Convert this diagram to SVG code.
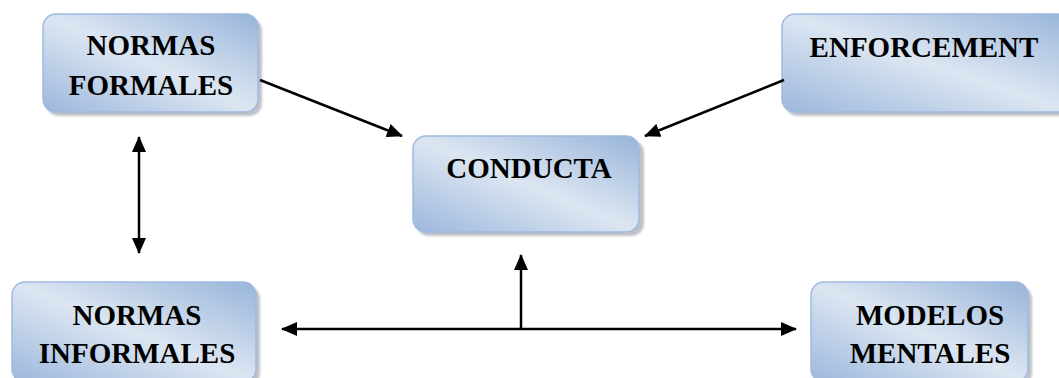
<svg xmlns="http://www.w3.org/2000/svg" width="1059" height="378" viewBox="0 0 1059 378">
<style>
.box{fill:url(#g);stroke:#9fbbe0;stroke-width:1.5}
.sh{fill:#8a8f99;opacity:0.55}
.t{font-family:"Liberation Serif","Times New Roman",serif;font-weight:bold;font-size:29px;fill:#000;text-anchor:middle}
.c{stroke:#000;stroke-width:2.5;fill:none}
</style>
<defs>
<linearGradient id="g" x1="1" y1="0" x2="0" y2="1">
<stop offset="0" stop-color="#98b4d9"/>
<stop offset="0.5" stop-color="#dce6f2"/>
<stop offset="1" stop-color="#9cb7dc"/>
</linearGradient>
<filter id="blur" x="-10%" y="-10%" width="120%" height="120%"><feGaussianBlur stdDeviation="1.2"/></filter>
<marker id="ah" markerUnits="userSpaceOnUse" markerWidth="16" markerHeight="14" refX="15" refY="7" orient="auto-start-reverse">
<path d="M0,0 L16,7 L0,14 Z" fill="#000"/>
</marker>
</defs>
<g id="n1">
<rect class="sh" x="46" y="18" width="216" height="98" rx="13" filter="url(#blur)"/>
<rect class="box" x="43" y="14" width="215" height="98" rx="13"/>
<text class="t" x="151" y="55">NORMAS</text>
<text class="t" x="151" y="95">FORMALES</text>
</g>
<g id="n2">
<rect class="sh" x="785" y="18" width="290" height="98" rx="13" filter="url(#blur)"/>
<rect class="box" x="782" y="14" width="290" height="98" rx="13"/>
<text class="t" x="924" y="57">ENFORCEMENT</text>
</g>
<g id="n3">
<rect class="sh" x="416" y="140" width="228" height="96" rx="13" filter="url(#blur)"/>
<rect class="box" x="413" y="136" width="226" height="96" rx="13"/>
<text class="t" x="529" y="178">CONDUCTA</text>
</g>
<g id="n4">
<rect class="sh" x="15" y="286" width="245" height="100" rx="13" filter="url(#blur)"/>
<rect class="box" x="12" y="282" width="244" height="100" rx="13"/>
<text class="t" x="137" y="325">NORMAS</text>
<text class="t" x="137" y="363">INFORMALES</text>
</g>
<g id="n5">
<rect class="sh" x="814" y="286" width="218" height="100" rx="13" filter="url(#blur)"/>
<rect class="box" x="811" y="282" width="217" height="100" rx="13"/>
<text class="t" x="930" y="325">MODELOS</text>
<text class="t" x="930" y="363">MENTALES</text>
</g>
<g id="connectors">
<line class="c" x1="260" y1="80" x2="402" y2="136" marker-end="url(#ah)"/>
<line class="c" x1="784" y1="80" x2="645" y2="136" marker-end="url(#ah)"/>
<line class="c" x1="139" y1="137" x2="139" y2="253" marker-start="url(#ah)" marker-end="url(#ah)"/>
<line class="c" x1="282" y1="329" x2="796" y2="329" marker-start="url(#ah)" marker-end="url(#ah)"/>
<line class="c" x1="521" y1="329" x2="521" y2="255" marker-end="url(#ah)"/>
</g>
</svg>
